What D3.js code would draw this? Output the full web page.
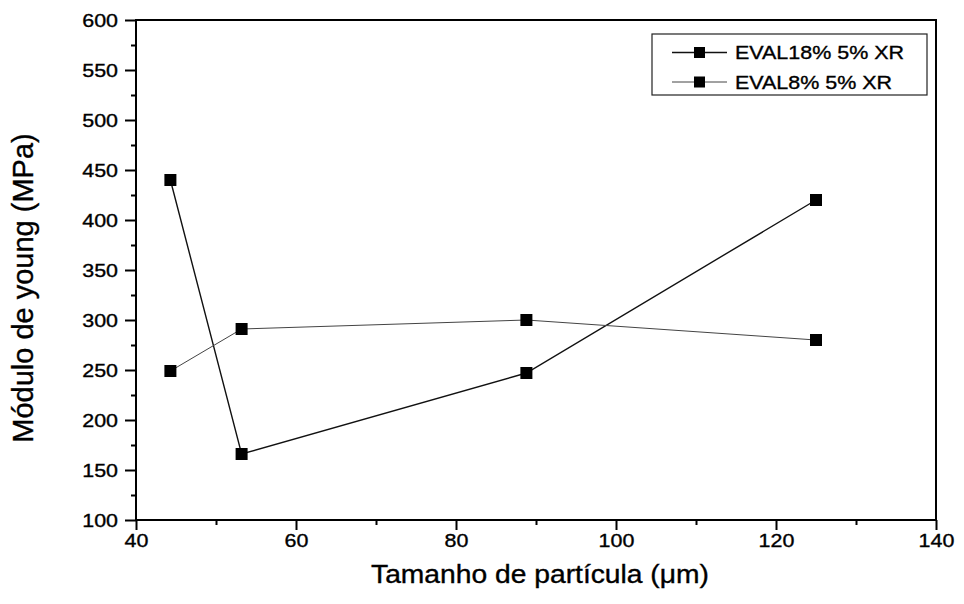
<!DOCTYPE html>
<html><head><meta charset="utf-8">
<script src="https://cdn.jsdelivr.net/npm/d3@7"></script>
<style>body{margin:0;background:#fff}svg{display:block}text{font-family:"Liberation Sans",Arial,sans-serif;fill:#000;stroke:#000;stroke-width:0.35px}</style>
</head><body><svg id="c" width="964" height="604"></svg>
<script>
const particleSize = [44.3, 53.2, 88.8, 125];
const evalA = [440, 166, 247, 420];
const evalB = [249, 291, 300, 280];
const seriesNames = ["EVAL18% 5% XR", "EVAL8% 5% XR"];
const xTicks = [40, 60, 80, 100, 120, 140];
const yTicks = [100, 150, 200, 250, 300, 350, 400, 450, 500, 550, 600];
const xTitle = "Tamanho de partícula (\u03BCm)";
const yTitle = "Módulo de young (MPa)";

const SX = 1.13;
const svg = d3.select("#c");
const L = 136, R = 936, T = 20, B = 520;
const x = d3.scaleLinear().domain([40, 140]).range([L, R]);
const y = d3.scaleLinear().domain([100, 600]).range([B, T]);

// frame
svg.append("rect").attr("x", L).attr("y", T).attr("width", R - L).attr("height", B - T)
  .attr("fill", "none").attr("stroke", "#000").attr("stroke-width", 2);

// minor ticks
const xMinor = d3.range(50, 140, 20);
const yMinor = d3.range(125, 600, 50);
const gx = svg.append("g").attr("transform", `translate(0,${B})`)
  .call(d3.axisBottom(x).tickValues(xMinor).tickSize(5).tickFormat(""));
gx.select(".domain").remove();
const gy = svg.append("g").attr("transform", `translate(${L},0)`)
  .call(d3.axisLeft(y).tickValues(yMinor).tickSize(5).tickFormat(""));
gy.select(".domain").remove();

// major axes
const ax = svg.append("g").attr("transform", `translate(0,${B})`)
  .call(d3.axisBottom(x).tickValues(xTicks).tickSize(10).tickPadding(6).tickFormat(d3.format("d")));
ax.select(".domain").remove();
ax.selectAll(".tick text").attr("font-size", 19).attr("y", 0).attr("dy", 0)
  .attr("transform", `translate(0,27) scale(${SX},1)`);
const ay = svg.append("g").attr("transform", `translate(${L},0)`)
  .call(d3.axisLeft(y).tickValues(yTicks).tickSize(11).tickFormat(d3.format("d")));
ay.select(".domain").remove();
ay.selectAll(".tick text").attr("font-size", 19).attr("x", 0).attr("dy", "0.35em")
  .attr("transform", `translate(-18,0) scale(${SX},1)`);
svg.selectAll(".tick line").attr("stroke", "#000").attr("stroke-width", 2);

// series
const line = d3.line().x(d => x(d[0])).y(d => y(d[1]));
const series = [
  {name: seriesNames[0], vals: evalA, color: "#111", w: 1.4},
  {name: seriesNames[1], vals: evalB, color: "#444", w: 1}
];
series.forEach(s => {
  const pts = particleSize.map((p, i) => [p, s.vals[i]]);
  svg.append("path").datum(pts).attr("d", line).attr("fill", "none")
    .attr("stroke", s.color).attr("stroke-width", s.w);
  svg.selectAll(null).data(pts).enter().append("rect")
    .attr("x", d => x(d[0]) - 6).attr("y", d => y(d[1]) - 6)
    .attr("width", 12).attr("height", 12).attr("fill", "#000");
});

// legend
const lg = svg.append("g");
lg.append("rect").attr("x", 652).attr("y", 34).attr("width", 275).attr("height", 61)
  .attr("fill", "#fff").attr("stroke", "#222").attr("stroke-width", 1.2);
series.forEach((s, i) => {
  const cy = 52.5 + i * 29.5;
  lg.append("line").attr("x1", 672).attr("x2", 727).attr("y1", cy).attr("y2", cy)
    .attr("stroke", s.color).attr("stroke-width", s.w);
  lg.append("rect").attr("x", 694).attr("y", cy - 5.5).attr("width", 11).attr("height", 11).attr("fill", "#000");
  lg.append("text").attr("transform", `translate(735,${cy + 6.5}) scale(${SX},1)`)
    .attr("font-size", 19).text(s.name);
});

// titles
svg.append("text").attr("transform", `translate(540,583) scale(${SX},1)`)
  .attr("text-anchor", "middle").attr("font-size", 25).text(xTitle);
svg.append("text").attr("transform", `translate(33,288) rotate(-90)`)
  .attr("text-anchor", "middle").attr("font-size", 29).text(yTitle);
</script></body></html>
